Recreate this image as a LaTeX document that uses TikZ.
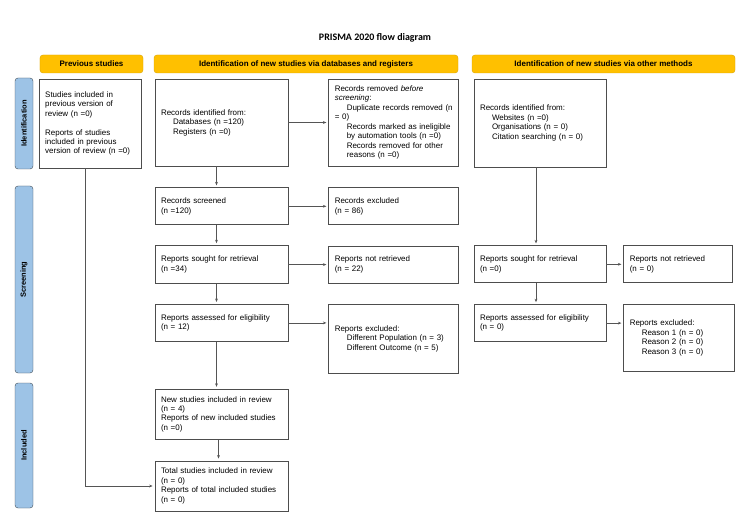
\documentclass[tikz,border=0pt]{standalone}
\usepackage{fontspec}
\setmainfont{Liberation Sans}
\newfontfamily\titlefont{Carlito}
\usetikzlibrary{arrows.meta,positioning}
\definecolor{hdrfill}{HTML}{FFC000}
\definecolor{hdrline}{HTML}{D9A300}
\definecolor{sidefill}{HTML}{9DC3E6}
\definecolor{sideline}{HTML}{3F4A55}
\definecolor{boxline}{HTML}{4D4D4D}
\definecolor{linkgray}{HTML}{555555}
\newcommand{\ind}{\hspace*{12bp}}

\begin{document}
\begin{tikzpicture}[
    x=1bp, y=-1bp,
    every node/.style={font=\fontsize{8}{9.5}\selectfont},
    header/.style={rectangle, draw=hdrline, fill=hdrfill, rounded corners=3bp, minimum height=18bp, font=\fontsize{8}{9.5}\selectfont\bfseries},
    side/.style={rectangle, draw=sideline, fill=sidefill, rounded corners=3bp, rotate=90, minimum height=18bp, font=\fontsize{7.5}{9}\selectfont\bfseries},
    box/.style={rectangle, draw=boxline, line width=0.8bp, fill=white, inner xsep=6bp, align=left},
    arrow/.style={draw=linkgray, line width=0.7bp, -{Stealth[length=3.5bp,width=2.8bp]}, shorten >=2bp}
  ]
    \useasboundingbox (0,0) rectangle (750,531);

    % Title and column headers
    \node (title) at (375,38) {\titlefont\bfseries\fontsize{10}{12}\selectfont PRISMA 2020 flow diagram};
    \node[header, minimum width=103bp] (hprev) at (91.5,64) {Previous studies};
    \node[header, minimum width=304bp] (hdb) at (306,64) {Identification of new studies via databases and registers};
    \node[header, minimum width=263bp] (hoth) at (603.5,64) {Identification of new studies via other methods};

    % Phase bars
    \node[side, minimum width=91bp] (sid) at (24,123.5) {Identification};
    \node[side, minimum width=187bp] (sscr) at (24,279.5) {Screening};
    \node[side, minimum width=125bp] (sinc) at (24,445.5) {Included};

    % Databases and registers
    \node[box, text width=121bp, minimum height=87bp] (recid) at (221.5,122.5) {Records identified from:\\ \ind Databases (n =120)\\ \ind Registers (n =0)};
    \node[box, right=40bp of recid, text width=118bp, minimum height=87bp] (recrem) {Records removed \textit{before}\\ \textit{screening}:\\ \ind Duplicate records removed (n\\ = 0)\\ \ind Records marked as ineligible\\ \ind by automation tools (n =0)\\ \ind Records removed for other\\ \ind reasons (n =0)};
    \node[box, below=21bp of recid, text width=121bp, minimum height=37bp] (screened) {Records screened\\ (n =120)};
    \node[box, right=40bp of screened, text width=118bp, minimum height=37bp] (excluded) {Records excluded\\ (n = 86)};
    \node[box, below=20bp of screened, text width=121bp, minimum height=38bp] (sought) {Reports sought for retrieval\\ (n =34)};
    \node[box, right=40bp of sought, text width=118bp, minimum height=37bp] (notret) {Reports not retrieved\\ (n = 22)};
    \node[box, below=20bp of sought, text width=121bp, minimum height=37bp] (assessed) {Reports assessed for eligibility\\ (n = 12)};
    \node[box, right=40bp of assessed.north east, anchor=north west, text width=118bp, minimum height=69bp] (repexcl) {Reports excluded:\\ \ind Different Population (n = 3)\\ \ind Different Outcome (n = 5)};
    \node[box, below=47bp of assessed, text width=121bp, minimum height=50bp] (newinc) {New studies included in review\\ (n = 4)\\ Reports of new included studies\\ (n =0)};
    \node[box, below=21bp of newinc, text width=121bp, minimum height=50bp] (total) {Total studies included in review\\ (n = 0)\\ Reports of total included studies\\ (n = 0)};

    % Previous studies
    \node[box, left=13bp of recid.north west, anchor=north east, text width=90bp, minimum height=89bp] (prev) {Studies included in\\ previous version of\\ review (n =0)\\[9.5bp] Reports of studies\\ included in previous\\ version of review (n =0)};

    % Other methods
    \node[box, text width=120bp, minimum height=88bp] (othid) at (540,123) {Records identified from:\\ \ind Websites (n =0)\\ \ind Organisations (n = 0)\\ \ind Citation searching (n = 0)};
    \node[box, below=78bp of othid, text width=120bp, minimum height=37bp] (othsought) {Reports sought for retrieval\\ (n =0)};
    \node[box, right=17bp of othsought, text width=97bp, minimum height=37bp] (othnotret) {Reports not retrieved\\ (n = 0)};
    \node[box, below=21bp of othsought, text width=120bp, minimum height=37bp] (othassessed) {Reports assessed for eligibility\\ (n = 0)};
    \node[box, right=17bp of othassessed.north east, anchor=north west, text width=99bp, minimum height=67bp] (othexcl) {Reports excluded:\\ \ind Reason 1 (n = 0)\\ \ind Reason 2 (n = 0)\\ \ind Reason 3 (n = 0)};

    % Databases connections
    \draw[arrow] (recid) -- (recrem);
    \draw[arrow] ([xshift=-5bp]recid.south) -- ([xshift=-5bp]screened.north);
    \draw[arrow] (screened) -- (excluded);
    \draw[arrow] ([xshift=-5bp]screened.south) -- ([xshift=-5bp]sought.north);
    \draw[arrow] (sought.east) -- (sought.east -| notret.west);
    \draw[arrow] ([xshift=-5bp]sought.south) -- ([xshift=-5bp]assessed.north);
    \draw[arrow] (assessed.east) -- (assessed.east -| repexcl.west);
    \draw[arrow] ([xshift=-5bp]assessed.south) -- ([xshift=-5bp]assessed.south |- newinc.north);
    \draw[arrow] ([xshift=-3bp]newinc.south) -- ([xshift=-3bp]newinc.south |- total.north);
    \draw[arrow] ([xshift=-5bp]prev.south) |- (total.west);

    % Other methods connections
    \draw[arrow] ([xshift=-4bp]othid.south) -- ([xshift=-4bp]othid.south |- othsought.north);
    \draw[arrow] (othsought) -- (othnotret);
    \draw[arrow] ([xshift=-4bp]othsought.south) -- ([xshift=-4bp]othsought.south |- othassessed.north);
    \draw[arrow] (othassessed.east) -- (othassessed.east -| othexcl.west);

\end{tikzpicture}
\end{document}
